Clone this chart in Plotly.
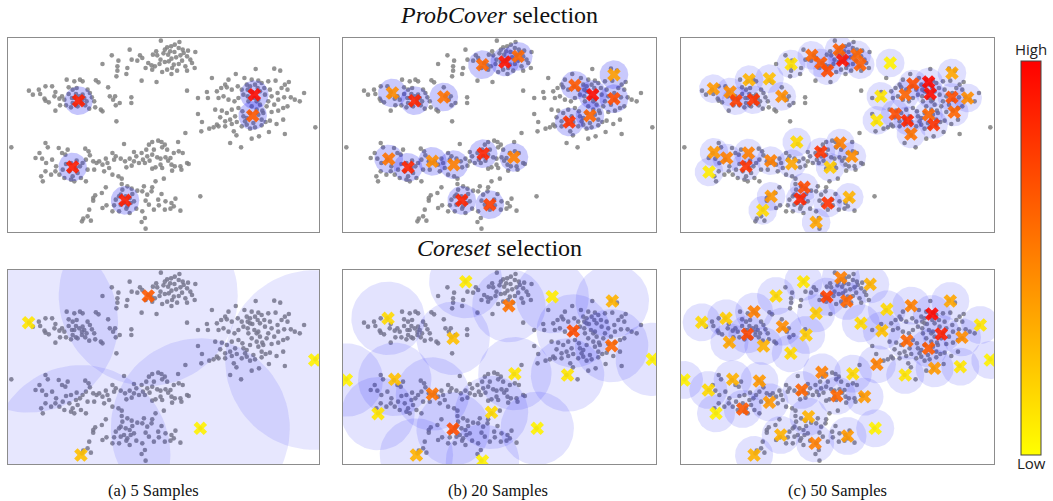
import numpy as np
import plotly.graph_objects as go

# ---------------- data (shared unlabeled pool, same in every panel) ----------------
GRAY_X = [
    # top-middle cluster
    466, 522, 508, 497, 485, 478, 532, 548, 570, 452, 494, 507, 474, 442, 455, 372, 403, 410, 378, 395,
    318, 338, 290, 335, 365, 335, 362, 332, 408, 453, 428, 438, 448, 465, 478, 490, 498, 512, 525, 545,
    555, 520, 540, 568, 500, 485, 470, 498, 440, 420, 462, 530, 560, 515, 545, 488, 505, 520, 535,
    # left cluster
    68, 80, 98, 102, 118, 138, 148, 145, 118, 115, 128, 162, 148, 182, 205, 222, 230, 270, 278, 188,
    200, 212, 188, 198, 210, 230, 235, 228, 210, 195, 180, 175, 242, 252, 258, 250, 268, 285, 290, 307,
    312, 328, 322, 330, 342, 377, 377, 332, 265, 245, 168, 205, 220, 228, 215, 200, 160, 238,
    # right cluster
    752, 808, 826, 692, 718, 740, 760, 790, 812, 852, 670, 660, 648, 635, 620, 605, 608, 665, 680, 698,
    710, 725, 735, 770, 778, 795, 800, 818, 830, 840, 848, 838, 858, 870, 885, 898, 820, 808, 790, 785,
    772, 765, 755, 728, 715, 700, 688, 670, 655, 640, 630, 650, 665, 680, 700, 712, 690, 675, 660, 645,
    635, 590, 578, 588, 612, 625, 640, 660, 680, 695, 710, 725, 735, 750, 770, 782, 795, 815, 835, 800,
    820, 835, 848, 792, 740, 762, 708, 840, 686, 694, 675, 932, 545, 540, 578,
    735, 750, 765, 748, 730, 760, 740, 755, 735, 760, 725, 770, 745, 720, 775, 715, 742, 758, 780, 728,
    # bottom-left cluster
    118, 125, 100, 88, 108, 120, 138, 158, 168, 178, 185, 238, 248, 252, 240, 230, 245, 222, 212, 150,
    148, 118, 105, 110, 135, 160, 175, 195, 205, 225, 240, 262, 272, 265, 290, 295, 305, 15,
    180, 195, 210, 190, 200, 170, 215,
    # middle cluster
    355, 320, 325, 330, 345, 358, 372, 385, 392, 408, 422, 430, 440, 458, 468, 478, 470, 485, 445, 440,
    425, 412, 400, 385, 378, 418, 432, 455, 465, 480, 488, 495, 505, 520, 532, 518, 498, 508, 525, 545,
    550, 528, 500, 470, 450, 440, 465, 310, 320, 338, 348, 362, 280, 300,
    # bottom cluster
    450, 475, 440, 468, 458, 480, 510, 498, 505, 525, 495, 478, 460, 445, 430, 420, 425, 410, 438, 395,
    378, 365, 348, 300, 288, 268, 262, 262, 290, 302, 325, 320, 340, 362, 372, 392, 410, 418, 408, 420,
    250, 245, 232, 228, 255, 585, 415, 345, 330, 355, 372, 380, 350, 340, 360, 375, 345, 365, 385,
]
GRAY_Y = [
    # top-middle cluster
    18, 22, 30, 35, 38, 45, 45, 48, 52, 50, 50, 52, 56, 60, 62, 45, 62, 70, 75, 78,
    62, 78, 88, 95, 100, 108, 118, 125, 138, 142, 85, 92, 95, 75, 82, 80, 72, 68, 62, 65,
    75, 88, 95, 100, 100, 105, 112, 118, 105, 100, 88, 78, 85, 108, 108, 60, 90, 40, 55,
    # left cluster
    168, 180, 165, 178, 155, 155, 172, 185, 198, 192, 203, 212, 228, 135, 140, 135, 140, 137, 143, 158,
    165, 160, 178, 190, 178, 180, 190, 205, 212, 218, 212, 195, 200, 175, 188, 222, 218, 225, 230, 158,
    185, 185, 195, 212, 205, 188, 205, 260, 200, 165, 185, 190, 185, 195, 215, 205, 192, 212,
    # right cluster
    103, 102, 108, 118, 130, 135, 138, 140, 138, 142, 135, 150, 160, 170, 130, 172, 190, 158, 165, 155,
    165, 150, 170, 145, 160, 165, 185, 175, 160, 150, 165, 188, 188, 195, 200, 175, 195, 210, 200, 215,
    228, 210, 200, 185, 180, 190, 200, 195, 185, 190, 225, 228, 235, 225, 220, 230, 245, 255, 260, 248,
    270, 262, 238, 290, 282, 278, 275, 275, 268, 262, 275, 270, 282, 278, 272, 262, 258, 268, 255, 232,
    228, 220, 215, 292, 312, 305, 338, 298, 290, 302, 325, 278, 168, 295, 190,
    155, 150, 170, 190, 200, 195, 215, 225, 235, 240, 250, 255, 265, 260, 235, 245, 172, 160, 180, 165,
    # bottom-left cluster
    325, 338, 355, 370, 372, 385, 375, 340, 355, 360, 345, 342, 350, 362, 375, 385, 405, 395, 378, 395,
    410, 410, 425, 440, 420, 420, 430, 435, 440, 430, 440, 380, 385, 405, 390, 410, 385, 338,
    388, 385, 400, 410, 425, 405, 415,
    # middle cluster
    328, 355, 375, 365, 372, 380, 372, 352, 365, 355, 345, 330, 322, 318, 322, 330, 338, 345, 345, 360,
    365, 375, 385, 380, 393, 385, 378, 368, 372, 368, 378, 370, 355, 350, 355, 322, 390, 395, 395, 385,
    388, 405, 408, 400, 398, 402, 390, 400, 420, 425, 432, 398, 380, 372,
    # bottom cluster
    440, 432, 458, 478, 495, 500, 492, 505, 515, 528, 522, 525, 512, 525, 510, 498, 480, 470, 470, 468,
    462, 455, 448, 458, 475, 482, 490, 498, 520, 512, 512, 530, 530, 522, 535, 522, 530, 550, 562, 582,
    525, 545, 552, 560, 558, 485, 455, 480, 495, 505, 490, 478, 465, 485, 485, 505, 510, 515, 500,
]

# selected samples: x, y and uncertainty/score (0 = low, 1 = high)
PC5_X = [218, 200, 358, 748, 743]
PC5_Y = [198, 397, 497, 180, 243]
PC5_V = [0.88, 0.88, 0.88, 0.95, 0.65]

PC20_X = [423, 490, 530, 153, 220, 307, 700, 753, 817, 817, 745, 683, 142, 200, 273, 337, 425, 517, 361, 445]
PC20_Y = [90, 82, 65, 175, 198, 187, 152, 180, 120, 192, 243, 262, 373, 398, 380, 390, 357, 368, 497, 510]
PC20_V = [0.6, 0.92, 0.6, 0.45, 0.85, 0.55, 0.65, 0.95, 0.38, 0.7, 0.6, 0.8, 0.55, 0.85, 0.45, 0.5, 0.85, 0.5, 0.85, 0.75]

PC50_X = [335, 397, 424, 444, 479, 489, 532, 542, 632, 102, 152, 209, 270, 170, 222, 307,
          604, 700, 747, 752, 677, 817, 817, 864, 592, 647, 684, 747, 762, 824, 694,
          104, 142, 207, 200, 274, 89, 352, 337, 424, 482, 517, 452,
          374, 362, 445, 509, 275, 250, 410]
PC50_Y = [88, 62, 85, 108, 45, 77, 60, 90, 85, 162, 172, 135, 132, 198, 195, 185,
          185, 148, 142, 177, 180, 115, 188, 190, 257, 238, 258, 240, 270, 232, 298,
          353, 370, 355, 395, 378, 412, 322, 387, 352, 325, 365, 398,
          458, 493, 505, 488, 485, 527, 563]
PC50_V = [0.12, 0.6, 0.65, 0.7, 0.62, 0.92, 0.6, 0.62, 0.05, 0.4, 0.45, 0.3, 0.25, 0.75, 0.8, 0.45,
          0.1, 0.7, 0.97, 0.95, 0.6, 0.35, 0.7, 0.45, 0.1, 0.7, 0.85, 0.6, 0.8, 0.6, 0.55,
          0.4, 0.5, 0.5, 0.8, 0.5, 0.08, 0.15, 0.35, 0.8, 0.5, 0.45, 0.2,
          0.7, 0.85, 0.8, 0.3, 0.4, 0.15, 0.35]

CS5_X = [428, 67, 930, 585, 225]
CS5_Y = [88, 168, 280, 485, 565]
CS5_V = [0.65, 0.1, 0.05, 0.05, 0.25]

CS20_X = [373, 502, 632, 812, 140, 335, 695, 810, 932, 15, 160, 520, 678, 273, 110, 450, 335, 587, 225, 423]
CS20_Y = [45, 117, 90, 103, 155, 215, 193, 237, 278, 340, 338, 321, 325, 382, 441, 437, 487, 485, 565, 583]
CS20_V = [0.08, 0.55, 0.08, 0.3, 0.15, 0.25, 0.7, 0.6, 0.05, 0.05, 0.25, 0.1, 0.1, 0.55, 0.1, 0.15, 0.7, 0.05, 0.3, 0.05]

CS50_X = [372, 484, 572, 290, 442, 502, 224, 140, 67, 410, 622, 695, 757, 812, 309, 204, 380, 544, 607, 785,
          902, 682, 847, 150, 252, 747, 334, 932, 592, 765, 842, 677, 14, 160, 240, 427, 520, 87, 367, 472,
          555, 270, 190, 110, 387, 587, 304, 504, 407, 224]
CS50_Y = [45, 33, 53, 88, 90, 103, 135, 155, 167, 140, 128, 117, 142, 103, 180, 203, 205, 170, 192, 202,
          175, 222, 212, 227, 238, 245, 260, 280, 293, 305, 300, 325, 340, 338, 343, 317, 321, 370, 370, 387,
          390, 407, 427, 440, 450, 485, 505, 508, 530, 565]
CS50_V = [0.1, 0.5, 0.3, 0.15, 0.75, 0.6, 0.5, 0.2, 0.15, 0.2, 0.15, 0.5, 0.97, 0.35, 0.45, 0.72, 0.2, 0.15, 0.25, 0.88,
          0.1, 0.6, 0.45, 0.35, 0.3, 0.65, 0.15, 0.05, 0.5, 0.4, 0.1, 0.1, 0.05, 0.3, 0.4, 0.5, 0.15, 0.15, 0.6, 0.6,
          0.4, 0.4, 0.65, 0.05, 0.3, 0.05, 0.3, 0.4, 0.5, 0.3]

RADII = [43, 43, 43, 270, 110, 57]          # coverage ball radius per panel (data units)
CIRCLE_ALPHA = [0.27, 0.25, 0.15, 0.11, 0.13, 0.14]

PANEL_TITLES = ["<i>ProbCover</i> selection", "<i>Coreset</i> selection"]
COL_LABELS = ["(a) 5 Samples", "(b) 20 Samples", "(c) 50 Samples"]

PANELS = [
    (PC5_X, PC5_Y, PC5_V), (PC20_X, PC20_Y, PC20_V), (PC50_X, PC50_Y, PC50_V),
    (CS5_X, CS5_Y, CS5_V), (CS20_X, CS20_Y, CS20_V), (CS50_X, CS50_Y, CS50_V),
]

# ---------------- layout geometry (page pixels -> paper) ----------------
W, H = 1053, 501


def px(p):
    return min(1.0, max(0.0, p / W))


def py(p):
    return min(1.0, max(0.0, 1 - p / H))


COL_PX = [(8, 319), (343, 656), (681, 994)]
ROW_PX = [(38, 232), (270, 464)]
LABEL_X = [153, 498, 837]
XR = [5, 943]
YR = [592, 10]

COLORSCALE = [[0.0, "rgb(255,255,0)"], [0.5, "rgb(255,128,0)"], [1.0, "rgb(255,0,0)"]]

fig = go.Figure()
theta = np.linspace(0, 2 * np.pi, 90)

for i, (sx, sy, sv) in enumerate(PANELS):
    r, c = divmod(i, 3)
    ax = "" if i == 0 else str(i + 1)
    xref, yref = "x" + ax, "y" + ax
    # gray pool
    fig.add_trace(go.Scatter(
        x=GRAY_X, y=GRAY_Y, mode="markers", xaxis=xref, yaxis=yref,
        marker=dict(size=4.6, color="rgb(128,128,128)", opacity=0.85),
        showlegend=False, hoverinfo="skip"))
    # coverage balls
    rad = RADII[i]
    for cx, cy in zip(sx, sy):
        fig.add_trace(go.Scatter(
            x=cx + rad * np.cos(theta), y=cy + rad * np.sin(theta),
            mode="lines", fill="toself", xaxis=xref, yaxis=yref,
            fillcolor=f"rgba(40,40,245,{CIRCLE_ALPHA[i]})",
            line=dict(width=0), showlegend=False, hoverinfo="skip"))
    # selected samples
    fig.add_trace(go.Scatter(
        x=sx, y=sy, mode="markers", xaxis=xref, yaxis=yref,
        marker=dict(symbol="x", size=12, color=sv, colorscale=COLORSCALE,
                    cmin=0, cmax=1, opacity=0.9, line=dict(width=0),
                    showscale=(i == 2),
                    colorbar=dict(x=px(1021), xanchor="left", xpad=0,
                                  y=py(61), yanchor="top", ypad=0,
                                  len=(455 - 61) / H, lenmode="fraction",
                                  thickness=20, thicknessmode="pixels",
                                  outlinewidth=1, outlinecolor="#444",
                                  showticklabels=False, ticks="")),
        showlegend=False, hoverinfo="skip"))

    axis_common = dict(showgrid=False, zeroline=False, showticklabels=False, ticks="",
                       showline=True, mirror=True, linecolor="#8c8c8c", linewidth=1)
    fig.layout["xaxis" + ax] = dict(domain=[px(COL_PX[c][0]), px(COL_PX[c][1])], range=XR,
                                   anchor=yref, **axis_common)
    fig.layout["yaxis" + ax] = dict(domain=[py(ROW_PX[r][1]), py(ROW_PX[r][0])], range=YR,
                                   anchor=xref, **axis_common)

ann = []
serif = "Liberation Serif, Times New Roman, serif"
common = dict(xref="paper", yref="paper", showarrow=False, xanchor="center", yanchor="middle")
ann.append(dict(text=PANEL_TITLES[0], x=px(499), y=py(15),
                font=dict(family=serif, size=24, color="#111"), **common))
ann.append(dict(text=PANEL_TITLES[1], x=px(499), y=py(248),
                font=dict(family=serif, size=24, color="#111"), **common))
for c, lab in enumerate(COL_LABELS):
    ann.append(dict(text=lab, x=px(LABEL_X[c]), y=py(490),
                    font=dict(family=serif, size=16.5, color="#111"), **common))
ann.append(dict(text="High", x=px(1031), y=py(49),
                font=dict(family="Open Sans, sans-serif", size=15, color="#222"), **common))
ann.append(dict(text="Low", x=px(1031), y=py(463),
                font=dict(family="Open Sans, sans-serif", size=15, color="#222"), **common))

fig.update_layout(width=W, height=H, margin=dict(l=0, r=0, t=0, b=0),
                  paper_bgcolor="white", plot_bgcolor="white", annotations=ann)

fig.write_html("out.html", config={"displayModeBar": False},
               post_script="document.body.style.margin='0px';")
